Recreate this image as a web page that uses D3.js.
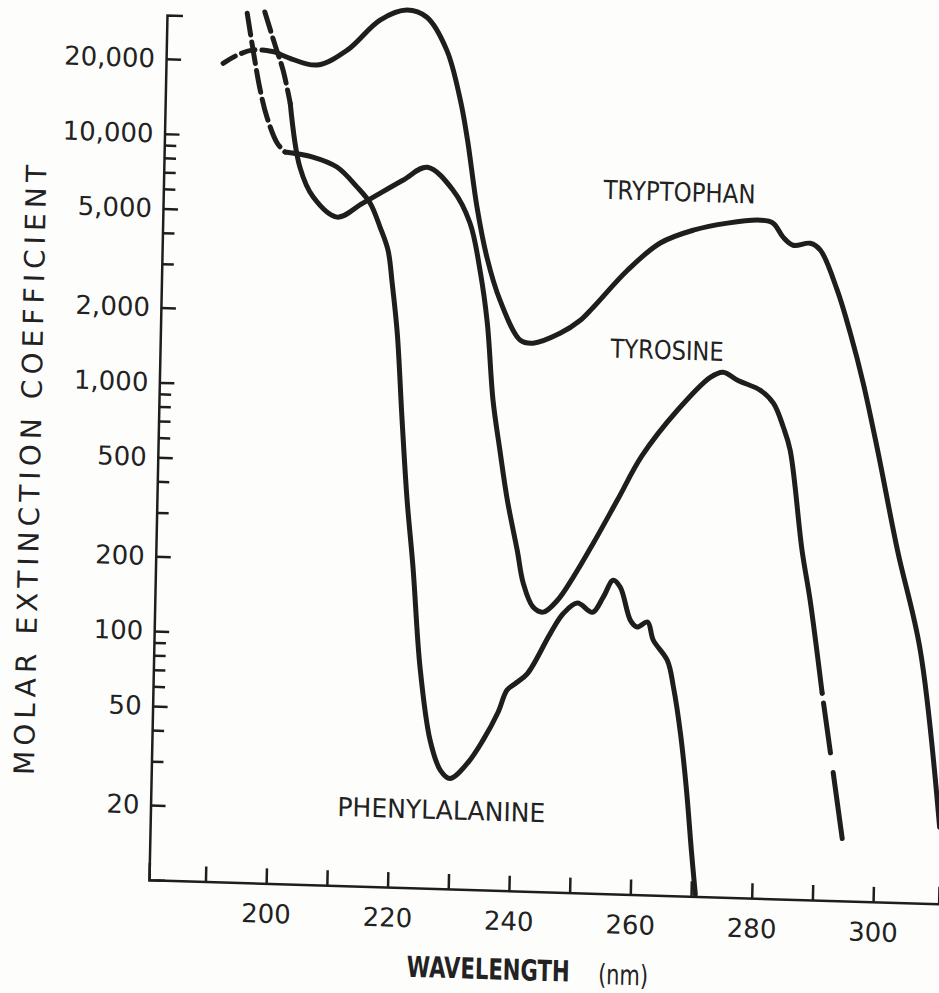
<!DOCTYPE html>
<html><head><meta charset="utf-8">
<script src="https://cdn.jsdelivr.net/npm/d3@7"></script>
<style>
html,body{margin:0;padding:0;background:#fdfdfc;}
svg{display:block;}
text{font-family:"DejaVu Sans",sans-serif;fill:#222;}
</style></head><body>
<svg id="chart" width="939" height="993"></svg>
<script>
// ---- data (wavelength nm, molar extinction coefficient) ----
const tryptophanDashed = [[190.1,19500],[192.4,21100],[194.8,22200],[196.9,22250],[198.9,21900]];
const tryptophan = [[198.9,21900],[201.1,20800],[205.6,19700],[210.5,22800],[215.8,30400],[220.2,33600],[223.5,31600],[226.9,23400],[229.3,14800],[230.6,10300],[232.4,5530],[234.2,3490],[236.5,2355],[240.0,1634],[242.1,1596],[246.5,1762],[249.8,2000],[251.9,2265],[257.4,3220],[262.7,4180],[268.1,4750],[273.7,5120],[279.1,5310],[281.2,5190],[282.9,4570],[284.6,4250],[287.4,4350],[289.1,4090],[292.0,2840],[294.3,1915],[296.6,1210],[299.2,653],[302.8,261],[306.9,104],[310.7,20.3]];
const tyrosineDashed = [[196.8,31700],[198.6,23400],[200.0,18600],[201.3,13700]];
const tyrosine = [[201.3,13700],[203.1,7620],[205.4,5800],[209.4,4850],[213.6,5560],[220.1,6950],[224.1,7890],[228.4,6430],[231.3,4770],[233.2,3010],[234.5,1895],[235.7,931],[237.0,588],[238.4,371],[240.2,234],[241.3,173],[243.0,139],[244.7,133],[247.0,149],[249.5,185],[252.7,255],[256.5,382],[260.4,580],[266.1,894],[271.4,1224],[273.5,1288],[275.9,1200],[279.7,1100],[281.9,979],[283.6,787],[284.8,637],[287.1,253],[288.6,160],[290.9,67.9]];
const tyrosineTail = [[290.9,67.9],[292.8,34.9],[294.7,17.8]];
const phenylalanineDashed = [[193.9,31200],[195.0,22200],[196.3,15400],[197.5,12000],[199.3,9440],[200.6,8730]];
const phenylalanine = [[200.6,8730],[205.2,8400],[209.2,7710],[212.6,6440],[214.8,5570],[216.5,4480],[217.9,3620],[218.7,2670],[219.7,1690],[220.8,753],[221.9,360],[223.1,194],[224.6,77],[226.5,39.4],[228.3,29.9],[229.9,27.8],[232.7,32.1],[235.2,39.9],[237.6,52],[239.0,64],[240.3,68],[242.3,75],[245.9,109],[248.0,132],[250.3,146],[252.8,134.6],[254.5,155],[256.1,182],[257.3,171],[259.1,126],[260.2,119],[261.9,125],[262.9,106],[265.3,88],[266.4,68.8],[267.7,45.1],[268.9,26.6],[269.9,15.3],[270.7,10.2]];

const xTickValues = [190,200,210,220,230,240,250,260,270,280,290,300];
const xTickLabels = [200,220,240,260,280,300];
const yMajorTicks = [20,50,100,200,500,1000,2000,5000,10000,20000];
const yMinorTicks = [30,40,60,70,80,90,300,400,600,700,800,900,3000,4000,6000,7000,8000,9000];
const seriesLabels = [
  {text:"TRYPTOPHAN", nm:265.7, v:6730, len:152},
  {text:"TYROSINE", nm:264.2, v:1553, len:113},
  {text:"PHENYLALANINE", nm:228.6, v:20.7, len:208}
];
const xTitle = "WAVELENGTH";
const xUnit = "(nm)";
const yTitle = "MOLAR EXTINCTION COEFFICIENT";

// ---- layout ----
const W = 790, H = 865;
const ink = "#1e1e1e";
const svg = d3.select("#chart");
svg.append("rect").attr("width",939).attr("height",993).attr("fill","#fdfdfc");

// the scanned figure is slightly rotated/sheared
const g = svg.append("g").attr("transform","matrix(0.99954,0.0304,-0.0208,0.9998,167,15)");

const x = d3.scaleLinear().domain([180.7, 310.8]).range([0, W]);
const y = d3.scaleLog().domain([10, 30000]).range([H, 0]);

// y axis (major)
const yAx = g.append("g").call(
  d3.axisLeft(y).tickValues(yMajorTicks).tickFormat(d3.format(","))
    .tickSizeInner(-15).tickSizeOuter(-16).tickPadding(11));
// y axis minor
const yMin = g.append("g").call(
  d3.axisLeft(y).tickValues(yMinorTicks).tickFormat("")
    .tickSizeInner(-12).tickSizeOuter(0));
yMin.select(".domain").remove();

// x axis
const xAx = g.append("g").attr("transform",`translate(0,${H})`).call(
  d3.axisBottom(x).tickValues(xTickValues)
    .tickFormat(d => xTickLabels.includes(d) ? d : "")
    .tickSizeInner(-15).tickSizeOuter(-17).tickPadding(21));

[yAx, yMin, xAx].forEach(a => {
  a.selectAll("path,line").attr("stroke", ink).attr("stroke-width", 2.5).attr("fill","none");
  a.selectAll("text").attr("fill", ink).style("font-size","26px")
    .style("font-family","'DejaVu Sans',sans-serif");
});

// curves
const line = d3.line().x(d => x(d[0])).y(d => y(d[1])).curve(d3.curveCatmullRom.alpha(0.5));
const curves = [
  {data: tryptophanDashed, dash: "14,7"},
  {data: tryptophan, dash: null},
  {data: tyrosineDashed, dash: "20,7"},
  {data: tyrosine, dash: null},
  {data: tyrosineTail, dash: "0,10,50,20,80"},
  {data: phenylalanineDashed, dash: "22,7"},
  {data: phenylalanine, dash: null}
];
g.selectAll("path.curve").data(curves).join("path")
  .attr("class","curve")
  .attr("d", c => line(c.data))
  .attr("fill","none")
  .attr("stroke", ink)
  .attr("stroke-width", 5)
  .attr("stroke-linecap","round")
  .attr("stroke-linejoin","round")
  .attr("stroke-dasharray", c => c.dash);

// series labels
g.selectAll("text.lab").data(seriesLabels).join("text")
  .attr("class","lab")
  .attr("x", d => x(d.nm)).attr("y", d => y(d.v))
  .attr("text-anchor","middle").attr("dominant-baseline","central")
  .attr("textLength", d => d.len).attr("lengthAdjust","spacingAndGlyphs")
  .style("font-size","26px")
  .text(d => d.text);

// axis titles
g.append("text")
  .attr("transform","translate(-127,459) rotate(-90)")
  .attr("text-anchor","middle").attr("dominant-baseline","central")
  .attr("textLength",610).attr("lengthAdjust","spacing")
  .style("font-size","28px")
  .text(yTitle);

g.append("text")
  .attr("x",341).attr("y",944)
  .attr("text-anchor","middle").attr("dominant-baseline","central")
  .attr("textLength",163).attr("lengthAdjust","spacingAndGlyphs")
  .style("font-size","29px").style("font-weight","bold")
  .text(xTitle);
g.append("text")
  .attr("x",476).attr("y",946)
  .attr("text-anchor","middle").attr("dominant-baseline","central")
  .attr("textLength",50).attr("lengthAdjust","spacingAndGlyphs")
  .style("font-size","28px")
  .text(xUnit);
</script></body></html>
